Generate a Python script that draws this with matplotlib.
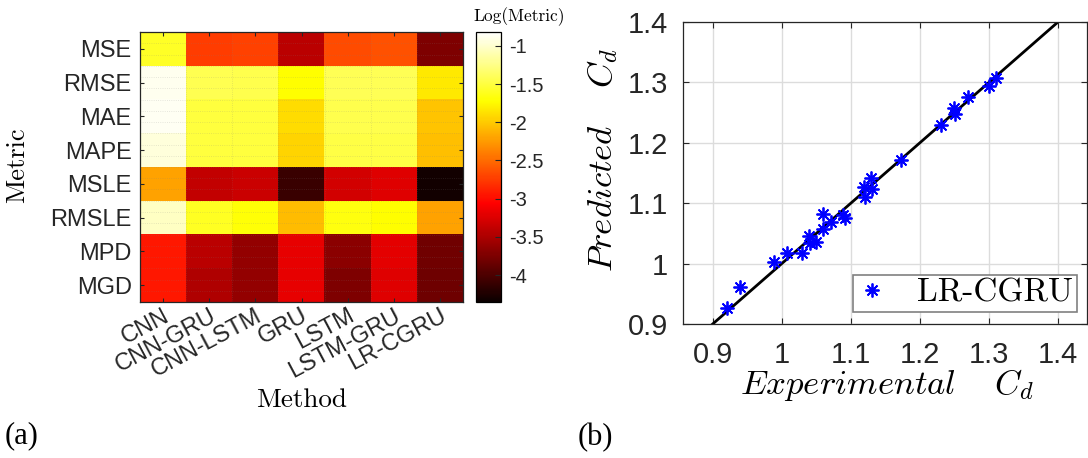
import numpy as np
import matplotlib
matplotlib.use('Agg')
import matplotlib.pyplot as plt
from matplotlib.transforms import ScaledTranslation

plt.rcParams['mathtext.fontset'] = 'cm'
plt.rcParams['axes.unicode_minus'] = False

# (a) heatmap data: log of each metric, rows = metrics, cols = methods
metrics = ['MSE', 'RMSE', 'MAE', 'MAPE', 'MSLE', 'RMSLE', 'MPD', 'MGD']
methods = ['CNN', 'CNN-GRU', 'CNN-LSTM', 'GRU', 'LSTM', 'LSTM-GRU', 'LR-CGRU']
mse = [-1.58, -2.74, -2.72, -3.42, -2.66, -2.63, -3.74]
rmse = [-0.88, -1.44, -1.45, -1.72, -1.42, -1.42, -1.84]
mae = [-0.87, -1.50, -1.50, -1.90, -1.45, -1.45, -2.02]
mape = [-0.95, -1.50, -1.50, -1.95, -1.47, -1.47, -2.06]
msle = [-2.20, -3.38, -3.34, -4.09, -3.30, -3.22, -4.30]
rmsle = [-1.03, -1.60, -1.70, -2.07, -1.67, -1.72, -2.20]
mpd = [-2.94, -3.42, -3.62, -3.18, -3.67, -3.20, -3.81]
mgd = [-2.94, -3.48, -3.62, -3.18, -3.74, -3.22, -3.82]
cbar_ticks = [-4, -3.5, -3, -2.5, -2, -1.5, -1]
cbar_labels = ['-4', '-3.5', '-3', '-2.5', '-2', '-1.5', '-1']

# (b) experimental vs predicted Cd for LR-CGRU
cd_exp = [0.920, 0.940, 0.989, 1.008, 1.030, 1.039, 1.041, 1.050, 1.060, 1.060,
          1.071, 1.088, 1.091, 1.119, 1.121, 1.129, 1.131, 1.172, 1.230, 1.249,
          1.251, 1.270, 1.300, 1.310]
cd_pred = [0.927, 0.961, 1.002, 1.017, 1.018, 1.046, 1.034, 1.036, 1.058, 1.082,
           1.069, 1.081, 1.075, 1.127, 1.111, 1.141, 1.124, 1.172, 1.229, 1.257,
           1.248, 1.276, 1.294, 1.307]
ticks_b = [0.9, 1.0, 1.1, 1.2, 1.3, 1.4]
ticks_b_labels = ['0.9', '1', '1.1', '1.2', '1.3', '1.4']

W, H = 1088, 458
fig = plt.figure(figsize=(W / 100, H / 100), dpi=100)


def box(l, t, r, b):
    return [l / W, 1 - b / H, (r - l) / W, (b - t) / H]


txt_col = '#262626'
sans = 'Liberation Sans'

# ---- heatmap ----
ax1 = fig.add_axes(box(140, 32, 463, 302))
data = np.array([mse, rmse, mae, mape, msle, rmsle, mpd, mgd])
im = ax1.imshow(data, cmap='hot', vmin=-4.35, vmax=-0.82, aspect='auto',
                interpolation='nearest')
ax1.set_xticks(range(len(methods)))
ax1.set_yticks(range(len(metrics)))
ax1.set_yticklabels(metrics, fontsize=17, family=sans, color=txt_col)
ax1.set_xticklabels(methods, fontsize=17, family=sans, color=txt_col,
                    rotation=28, ha='right', va='top', rotation_mode='anchor')
shift = ScaledTranslation(10 / 100, 0, fig.dpi_scale_trans)
for lab in ax1.get_xticklabels():
    lab.set_transform(lab.get_transform() + shift)
ax1.tick_params(direction='in', length=3, width=0.8, color=txt_col,
                top=True, right=True, pad=6)
ax1.tick_params(axis='x', pad=2)
ax1.set_xticks(np.arange(-0.5, len(methods), 0.5), minor=True)
ax1.set_yticks(np.arange(-0.5, len(metrics), 1 / 3), minor=True)
ax1.tick_params(which='minor', length=0)
ax1.grid(which='minor', color='gray', linestyle=':', linewidth=0.6, alpha=0.25)
ax1.set_xlim(-0.5, len(methods) - 0.5)
ax1.set_ylim(len(metrics) - 0.5, -0.5)
for s in ax1.spines.values():
    s.set_color(txt_col)
    s.set_linewidth(0.9)
fig.text(17 / W, 1 - 165 / H, 'Metric', family='cmr10', fontsize=19,
         rotation=90, ha='center', va='center')
fig.text(302 / W, 1 - 400 / H, 'Method', family='cmr10', fontsize=19.5,
         ha='center', va='center')

cax = fig.add_axes(box(476, 32, 501, 302))
cb = fig.colorbar(im, cax=cax, ticks=cbar_ticks)
cb.ax.set_yticklabels(cbar_labels, fontsize=14.5, family=sans, color=txt_col)
cb.ax.tick_params(direction='in', length=4, width=0.8, color=txt_col, pad=6)
cb.outline.set_linewidth(0.9)
fig.text(519 / W, 1 - 17 / H, 'Log(Metric)', family='cmr10', fontsize=12.5,
         ha='center', va='center')

# ---- scatter ----
ax2 = fig.add_axes(box(683, 22, 1087, 324))
ax2.plot([0.9, 1.4], [0.9, 1.4], color='black', linewidth=2, zorder=2)
ax2.plot(cd_exp, cd_pred, linestyle='none', marker=(8, 2, 0), markersize=10,
         markeredgewidth=1.3, color='blue', label='LR-CGRU', zorder=3)
ax2.set_xlim(0.857, 1.442)
ax2.set_ylim(0.9, 1.4)
ax2.set_xticks(ticks_b)
ax2.set_yticks(ticks_b)
ax2.set_xticklabels(ticks_b_labels, fontsize=21, family=sans, color=txt_col)
ax2.set_yticklabels(ticks_b_labels, fontsize=21, family=sans, color=txt_col)
ax2.tick_params(direction='in', length=4, width=0.8, color=txt_col,
                top=True, right=True)
ax2.tick_params(axis='x', pad=12)
ax2.tick_params(axis='y', pad=11)
ax2.grid(True, color='#dcdcdc', linewidth=1)
ax2.set_axisbelow(True)
for s in ax2.spines.values():
    s.set_color(txt_col)
    s.set_linewidth(0.9)
fig.text(887 / W, 1 - 385 / H, r'$Experimental\quad\; C_d$', fontsize=25,
         ha='center', va='center')
fig.text(603 / W, 1 - 160 / H, r'$Predicted\quad\; C_d$', fontsize=25,
         rotation=90, ha='center', va='center')
leg = ax2.legend(loc='lower right', bbox_to_anchor=(0.975, 0.04),
                 borderaxespad=0, fancybox=False, framealpha=1,
                 edgecolor='#808080', prop={'family': 'cmr10', 'size': 24},
                 handlelength=0.9, handletextpad=0.9, borderpad=0.12)
leg.get_frame().set_linewidth(1.2)

fig.text(22 / W, 1 - 436 / H, '(a)', family='Liberation Serif', fontsize=22,
         ha='center', va='center')
fig.text(595 / W, 1 - 438 / H, '(b)', family='Liberation Serif', fontsize=22,
         ha='center', va='center')

fig.savefig('out.png', dpi=100)
